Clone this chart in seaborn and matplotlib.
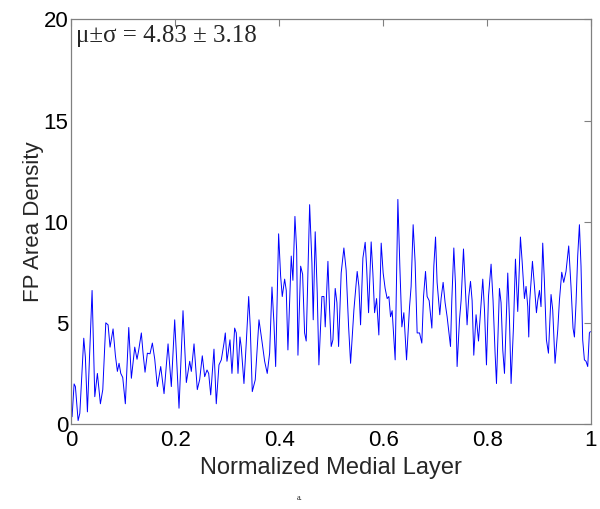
import numpy as np
import pandas as pd
import matplotlib
matplotlib.use("Agg")
import matplotlib.pyplot as plt
import seaborn as sns

# --- data (turning points of the trace) ---
layer = [
    0.0013, 0.0052, 0.0077, 0.0129, 0.0162, 0.0238, 0.0269, 0.0308, 0.0398, 0.0450,
    0.0500, 0.0558, 0.0604, 0.0662, 0.0706, 0.0744, 0.0802, 0.0846, 0.0885, 0.0917,
    0.0950, 0.0988, 0.1038, 0.1104, 0.1154, 0.1219, 0.1263, 0.1296, 0.1346, 0.1379,
    0.1417, 0.1462, 0.1513, 0.1558, 0.1604, 0.1654, 0.1719, 0.1783, 0.1860, 0.1923,
    0.1988, 0.2071, 0.2148, 0.2212, 0.2277, 0.2308, 0.2360, 0.2423,
    0.2469, 0.2519, 0.2565, 0.2610, 0.2642, 0.2681, 0.2744, 0.2788, 0.2840, 0.2885,
    0.2937, 0.2962, 0.2994, 0.3052, 0.3090, 0.3142, 0.3173, 0.3206, 0.3244, 0.3269,
    0.3321, 0.3365, 0.3412, 0.3442, 0.3481, 0.3538, 0.3610, 0.3667, 0.3719, 0.3769,
    0.3815, 0.3860, 0.3898, 0.3931, 0.3988, 0.4027, 0.4058, 0.4104, 0.4135, 0.4167,
    0.4231, 0.4263, 0.4302, 0.4335, 0.4360, 0.4412, 0.4450, 0.4488, 0.4519, 0.4585,
    0.4629, 0.4654, 0.4692, 0.4731, 0.4763, 0.4821, 0.4860, 0.4885, 0.4937,
    0.4969, 0.5000, 0.5033, 0.5077, 0.5110, 0.5142, 0.5192, 0.5244, 0.5288, 0.5335,
    0.5373, 0.5437, 0.5500, 0.5533, 0.5565, 0.5610, 0.5654, 0.5681, 0.5719, 0.5769,
    0.5802, 0.5835, 0.5873, 0.5917, 0.5962, 0.6000, 0.6038, 0.6077, 0.6110, 0.6142,
    0.6173, 0.6231, 0.6283, 0.6321, 0.6360, 0.6398, 0.6450, 0.6508, 0.6538, 0.6577,
    0.6615, 0.6654, 0.6700, 0.6744, 0.6777, 0.6815, 0.6846, 0.6885, 0.6937, 0.6975,
    0.7008, 0.7038, 0.7090, 0.7115, 0.7154, 0.7192, 0.7231, 0.7296, 0.7321, 0.7360,
    0.7392, 0.7423,
    0.7469, 0.7500, 0.7546, 0.7577, 0.7615, 0.7648, 0.7681, 0.7712, 0.7744, 0.7788,
    0.7835, 0.7873, 0.7917, 0.7950, 0.7988, 0.8027, 0.8077, 0.8115, 0.8154, 0.8181,
    0.8238, 0.8269, 0.8302, 0.8335, 0.8398, 0.8431, 0.8462, 0.8508, 0.8546, 0.8590,
    0.8642, 0.8673, 0.8719, 0.8750, 0.8783, 0.8802, 0.8821, 0.8873, 0.8912, 0.8950,
    0.8975, 0.9008, 0.9038, 0.9071, 0.9104, 0.9142, 0.9181, 0.9231, 0.9263, 0.9308,
    0.9360, 0.9392, 0.9437, 0.9475, 0.9519, 0.9571, 0.9615, 0.9654, 0.9681, 0.9712,
    0.9744, 0.9777, 0.9808, 0.9840, 0.9873, 0.9904, 0.9937, 0.9969, 0.9988,
]
density = [
    0.36, 1.98, 1.85, 0.17, 0.53, 4.24, 3.30, 0.60, 6.60, 1.35,
    2.50, 1.00, 1.70, 5.00, 4.90, 3.80, 4.70, 3.40, 2.60, 3.00,
    2.50, 2.30, 1.00, 4.77, 2.26, 3.80, 3.20, 3.66, 4.50, 3.50,
    2.56, 3.50, 3.47, 4.00, 3.20, 1.85, 2.84, 1.50, 3.96, 1.85,
    5.15, 0.78, 5.60, 2.05, 3.10, 2.60, 3.96, 1.70,
    2.20, 3.37, 2.34, 2.67, 2.50, 1.44, 3.70, 1.00, 2.92, 3.17,
    4.00, 4.50, 3.10, 4.16, 2.50, 4.74, 4.50, 2.50, 4.30, 3.80,
    2.00, 4.00, 6.30, 4.80, 1.60, 2.18, 5.15, 4.10, 3.10, 2.50,
    3.50, 6.77, 5.00, 2.84, 9.40, 7.30, 6.30, 7.16, 6.60, 3.66,
    8.30, 7.10, 10.26, 8.60, 3.40, 7.80, 7.40, 4.50, 4.10, 10.84,
    7.95, 5.15, 9.50, 6.50, 2.92, 6.30, 6.30, 4.80, 8.04,
    5.64, 3.83, 4.16, 6.70, 6.00, 3.83, 7.46, 8.70, 7.60, 4.80,
    3.00, 5.64, 7.54, 6.80, 4.90, 8.20, 8.98, 7.80, 5.50, 9.00,
    7.46, 5.50, 6.20, 4.40, 8.94, 7.46, 6.70, 6.20, 6.30, 5.30,
    5.60, 3.17, 11.10, 7.80, 4.80, 5.50, 3.17, 5.80, 6.80, 9.85,
    8.00, 4.50, 4.50, 4.00, 6.30, 7.54, 6.30, 6.10, 4.74, 7.80,
    9.24, 7.00, 5.40, 6.20, 7.00, 6.00, 5.30, 3.83, 6.10, 8.70,
    6.90, 2.84,
    5.15, 6.10, 8.65, 7.00, 4.90, 6.30, 7.05, 6.10, 3.40, 5.40,
    4.10, 5.50, 7.16, 5.64, 2.92, 6.30, 7.90, 6.10, 3.50, 2.00,
    6.70, 6.00, 3.66, 2.50, 7.46, 5.15, 2.00, 4.80, 8.15, 5.56,
    9.24, 8.10, 6.20, 6.80, 5.80, 4.30, 6.10, 8.04, 6.80, 5.50,
    6.10, 6.60, 5.80, 8.94, 7.00, 4.16, 3.50, 6.40, 5.64, 3.00,
    4.65, 6.10, 7.50, 7.00, 7.54, 8.80, 6.80, 4.74, 4.30, 6.00,
    8.30, 9.85, 7.80, 4.16, 3.17, 3.10, 2.84, 4.50, 4.57,
]
x_ticks = [0, 0.2, 0.4, 0.6, 0.8, 1]
x_tick_labels = ["0", "0.2", "0.4", "0.6", "0.8", "1"]
y_ticks = [0, 5, 10, 15, 20]
stats_label = "\u03bc\u00b1\u03c3 = 4.83 \u00b1 3.18"

df = pd.DataFrame({"layer": layer, "density": density})

sns.set_style("white")
plt.rcParams["font.family"] = ["Liberation Sans", "DejaVu Sans"]

fig = plt.figure(figsize=(6.0, 5.09), dpi=100)
ax = fig.add_axes([0.119, 0.167, 0.866, 0.795])

sns.lineplot(data=df, x="layer", y="density", color="#0000ff", linewidth=0.7,
             ax=ax, estimator=None, sort=False)

ax.set_xlim(0, 1)
ax.set_ylim(0, 20)
ax.set_xticks(x_ticks)
ax.set_xticklabels(x_tick_labels)
ax.set_yticks(y_ticks)
ax.tick_params(direction="in", length=5, width=0.8, color="#808080",
               labelsize=16, labelcolor="black", top=True, right=True)
ax.tick_params(axis="x", pad=4)
ax.tick_params(axis="y", pad=2)
for side in ax.spines.values():
    side.set_color("#808080")
    side.set_linewidth(0.9)

ax.set_xlabel("Normalized Medial Layer", fontsize=17, labelpad=5)
ax.set_ylabel("FP Area Density", fontsize=16, labelpad=0)

ax.text(0.008, 0.985, stats_label, transform=ax.transAxes, ha="left", va="top",
        fontsize=18, family=["Liberation Serif", "DejaVu Serif"])

fig.text(0.5, 0.022, "a.", ha="center", va="center", fontsize=6,
         family=["Liberation Serif", "DejaVu Serif"])

fig.savefig("out.png", dpi=100, facecolor="white")
